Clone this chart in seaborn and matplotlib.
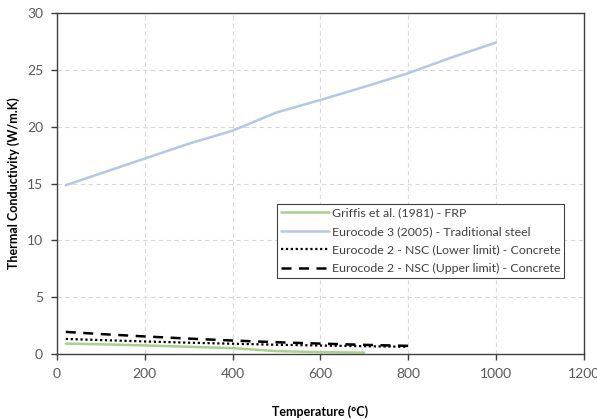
import matplotlib
matplotlib.use("Agg")
import matplotlib.pyplot as plt
import seaborn as sns
import pandas as pd

# Thermal conductivity vs temperature
frp_temp = [20, 100, 200, 300, 400, 500, 600, 700]
frp_k = [0.92, 0.86, 0.76, 0.64, 0.52, 0.26, 0.17, 0.13]

steel_temp = [20, 200, 300, 400, 500, 600, 700, 800, 900, 1000]
steel_k = [14.85, 17.2, 18.5, 19.65, 21.25, 22.35, 23.5, 24.7, 26.1, 27.4]

conc_temp = [20, 100, 200, 300, 400, 500, 600, 700, 800]
conc_lower_k = [1.33, 1.23, 1.11, 1.00, 0.91, 0.82, 0.75, 0.69, 0.64]
conc_upper_k = [1.95, 1.76, 1.55, 1.36, 1.19, 1.04, 0.92, 0.81, 0.72]

labels = [
    "Griffis et al. (1981) - FRP",
    "Eurocode 3 (2005) - Traditional steel",
    "Eurocode 2 - NSC (Lower limit) - Concrete",
    "Eurocode 2 - NSC (Upper limit) - Concrete",
]

x_ticks = [0, 200, 400, 600, 800, 1000, 1200]
y_ticks = [0, 5, 10, 15, 20, 25, 30]

sns.set_theme(style="white")
plt.rcParams["font.family"] = ["Lato", "DejaVu Sans"]

fig = plt.figure(figsize=(5.97, 4.2), dpi=100)
ax = fig.add_axes([0.0955, 0.157, 0.882, 0.812])

series = [
    (frp_temp, frp_k, labels[0], "#a9d18e", "-", 1.8),
    (steel_temp, steel_k, labels[1], "#b4c7e7", "-", 1.8),
    (conc_temp, conc_lower_k, labels[2], "#000000", (0, (1, 1.2)), 1.6),
    (conc_temp, conc_upper_k, labels[3], "#000000", (0, (4, 3)), 1.8),
]
for xs, ys, lab, col, ls, lw in series:
    df = pd.DataFrame({"Temperature": xs, "k": ys})
    sns.lineplot(data=df, x="Temperature", y="k", ax=ax, color=col,
                 linestyle=ls, linewidth=lw, label=lab)

ax.set_xlim(0, 1200)
ax.set_ylim(0, 30)
ax.set_xticks(x_ticks)
ax.set_yticks(y_ticks)

ax.grid(True, color="#d9d9d9", linestyle=(0, (4, 3)), linewidth=0.8)
ax.set_axisbelow(True)
for s in ax.spines.values():
    s.set_color("#404040")
    s.set_linewidth(1.0)

ax.tick_params(axis="both", which="major", length=4, width=1.0, color="#404040",
               direction="out", labelsize=10, labelcolor="#595959",
               bottom=True, left=True, pad=6)

ax.set_xlabel("Temperature (°C)", fontsize=9, fontweight="bold", color="#000000",
              labelpad=18)
ax.set_ylabel("Thermal Conductivity (W/m.K)", fontsize=9, fontweight="bold",
              color="#000000", labelpad=5)

leg = ax.legend(loc="upper left", bbox_to_anchor=(0.418, 0.44), fontsize=8.9,
                frameon=True, fancybox=False, framealpha=1, edgecolor="#404040",
                handlelength=3.9, handletextpad=0.2, borderpad=0.3,
                labelspacing=0.6, borderaxespad=0)
leg.get_frame().set_linewidth(0.8)
for t in leg.get_texts():
    t.set_color("#404040")

fig.savefig("out.png", dpi=100)
